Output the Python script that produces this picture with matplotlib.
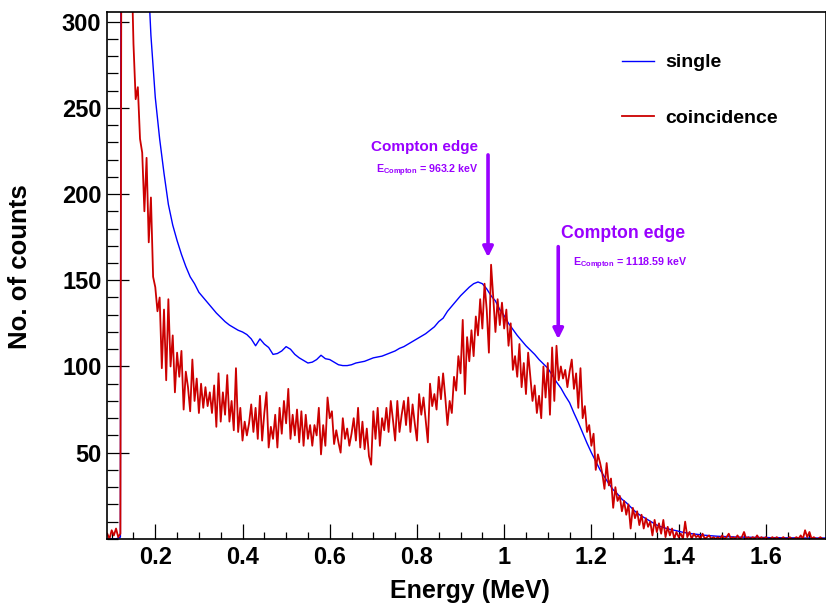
import numpy as np
import matplotlib.pyplot as plt
from matplotlib.ticker import MultipleLocator, FuncFormatter

plt.rcParams['font.family'] = ['Liberation Sans', 'DejaVu Sans']
plt.rcParams['font.weight'] = 'bold'
plt.rcParams['axes.labelweight'] = 'bold'
plt.rcParams['mathtext.fontset'] = 'custom'
plt.rcParams['mathtext.rm'] = 'Liberation Sans:bold'
plt.rcParams['mathtext.bf'] = 'Liberation Sans:bold'

# single spectrum, 0.01 MeV steps starting at 0.09 MeV
single_start, single_step = 0.09, 0.01
single_counts = [
    0, 0, 0, 1, 3000, 2600, 1500, 800, 480, 345,
    292, 256, 232, 212, 194, 182, 173, 165, 158, 152,
    148, 143, 140, 137, 134, 131, 128.5, 126, 124, 122.5,
    121, 120, 118.5, 116, 112, 116, 113, 111, 107, 107.5,
    109, 111.5, 110, 107, 105, 103.5, 102, 102.5, 104, 106.5,
    104.5, 104, 102.5, 101, 100.5, 100.5, 101, 102, 102.5, 103,
    104, 105, 105.5, 106, 107, 108, 109, 110.5, 111.5, 113,
    114.5, 116, 117.5, 119, 121, 123, 126, 128, 132, 135,
    138, 141, 143.5, 146, 148, 149, 148, 145, 141, 138,
    133, 129.5, 125, 121.5, 118, 115, 112, 109.5, 107, 104,
    101.5, 99, 95, 91, 87.5, 83, 79, 73, 67.5, 61.5,
    55.5, 50, 45, 40, 36, 32, 28.5, 26, 23, 21,
    18.5, 16, 14, 12.5, 11, 9.5, 8, 7, 6.2, 5.5,
    5, 4.4, 3.8, 3.4, 3, 2.7, 2.4, 2.1, 1.9, 1.7,
    1.5, 1.4, 1.3, 1.2, 1.1, 1.0, 1.0, 0.9, 0.9, 0.8,
    0.8, 0.8, 0.7, 0.7, 0.7, 0.6, 0.6, 0.6, 0.6, 0.5,
    0.5, 0.5, 0.5, 0.5, 0.5, 0.5,
]

# coincidence spectrum, 0.005 MeV steps starting at 0.09 MeV
coinc_start, coinc_step = 0.09, 0.005
coinc_counts = [
    3, 0, 5, 2, 6, 1, 3, 800, 1100, 900, 600, 340, 287, 255, 262, 232, 224, 190, 221, 172,
    198, 152, 146, 132, 140, 99, 133, 92, 139, 100, 118, 85, 108, 94, 109, 75, 97, 88, 74, 104,
    80, 93, 73, 90, 76, 88, 77, 85, 73, 89, 65, 96, 68, 85, 72, 95, 68, 80, 63, 99,
    62, 76, 57, 68, 60, 67, 78, 62, 76, 58, 83, 57, 73, 85, 53, 65, 58, 72, 53, 76,
    61, 80, 67, 87, 58, 72, 60, 75, 56, 74, 54, 72, 58, 66, 54, 66, 60, 76, 49, 66,
    54, 82, 70, 74, 55, 63, 56, 50, 70, 58, 64, 54, 61, 70, 57, 76, 53, 68, 52, 64,
    48, 43, 74, 58, 76, 54, 70, 63, 76, 62, 80, 69, 57, 80, 62, 72, 80, 66, 82, 62,
    78, 67, 57, 84, 72, 82, 69, 56, 90, 77, 84, 75, 94, 81, 96, 82, 66, 80, 73, 94,
    86, 106, 96, 127, 84, 117, 103, 121, 106, 129, 118, 139, 122, 148, 133, 108, 159, 140, 120, 139,
    124, 137, 122, 133, 112, 125, 98, 106, 94, 113, 88, 102, 84, 108, 94, 80, 89, 73, 83, 70,
    100, 82, 102, 72, 111, 80, 112, 92, 100, 93, 98, 88, 97, 104, 87, 96, 76, 99, 70, 77,
    62, 66, 54, 61, 40, 49, 44, 38, 29, 44, 31, 35, 18, 30, 22, 25, 16, 22, 14, 20,
    6, 18, 12, 16, 8, 14, 6, 12, 7, 10, 2, 11, 4, 9, 3, 11, 1, 7, 2, 6,
    0, 4, 1, 3, 0, 10, 1, 4, 0, 3, 1, 2, 0, 3, 0, 1, 2, 0, 1, 0,
    1, 0, 2, 0, 1, 3, 0, 1, 0, 2, 0, 1, 4, 0, 1, 0, 1, 0, 2, 0,
    1, 0, 1, 0, 0, 1, 0, 1, 0, 0, 1, 0, 0, 1, 0, 0, 1, 0, 2, 0,
    5, 1, 4, 0, 1, 0, 0, 1, 0, 0, 0,
]

series_labels = ['single', 'coincidence']
edge_energies = [0.963, 1.124]          # arrow positions (MeV)
edge_texts = ['963.2 keV', '1118.59 keV']

violet = '#9900ff'

single_e = single_start + single_step * np.arange(len(single_counts))
coinc_e = coinc_start + coinc_step * np.arange(len(coinc_counts))

fig = plt.figure(figsize=(8.26, 6.05), dpi=100)
ax = fig.add_axes([0.1295, 0.1093, 0.8705, 0.8709])

l1, = ax.plot(single_e, single_counts, color='#0000ff', lw=1.0)
l2, = ax.plot(coinc_e, coinc_counts, color='#cc0000', lw=1.3)

ax.set_xlim(0.0892, 1.738)
ax.set_ylim(0, 305.6)

ax.xaxis.set_major_locator(MultipleLocator(0.2))
ax.xaxis.set_minor_locator(MultipleLocator(0.05))
ax.xaxis.set_major_formatter(FuncFormatter(lambda v, p: '%g' % round(v, 2)))
ax.set_yticks([50, 100, 150, 200, 250, 300])
ax.yaxis.set_minor_locator(MultipleLocator(10))

ax.tick_params(axis='both', which='both', direction='in', width=0.9,
               top=False, right=False, labelsize=17)
ax.tick_params(axis='x', which='major', length=10.8, pad=5)
ax.tick_params(axis='x', which='minor', length=5.3)
ax.tick_params(axis='y', which='major', length=15.6, pad=4)
ax.tick_params(axis='y', which='minor', length=7.7)
for s in ax.spines.values():
    s.set_linewidth(1.2)

ax.set_xlabel('Energy (MeV)', fontsize=18, fontweight='bold', va='center')
ax.xaxis.set_label_coords(0.505, -0.099)
ax.set_ylabel('No. of counts', fontsize=18.5, fontweight='bold', va='center', ha='center')
ax.yaxis.set_label_coords(-0.1203, 0.516)

ax.legend([l1, l2], series_labels, fontsize=14, frameon=False,
          handlelength=1.65, handletextpad=0.6, labelspacing=1.96,
          loc='upper left', bbox_to_anchor=(0.716, 0.9205),
          borderpad=0, borderaxespad=0)

# Compton edge arrows and labels
ax.annotate('', xy=(edge_energies[0], 163.3), xytext=(edge_energies[0], 222.7),
            arrowprops=dict(arrowstyle='-|>,head_width=0.3,head_length=0.6',
                            lw=2.6, color=violet, shrinkA=0, shrinkB=0))
ax.annotate('', xy=(edge_energies[1], 115.8), xytext=(edge_energies[1], 169.5),
            arrowprops=dict(arrowstyle='-|>,head_width=0.3,head_length=0.6',
                            lw=2.6, color=violet, shrinkA=0, shrinkB=0))

ax.text(0.8175, 227.5, 'Compton edge', color=violet, fontsize=11,
        ha='center', va='center')
ax.text(1.2727, 177.4, 'Compton edge', color=violet, fontsize=12.7,
        ha='center', va='center')
ax.text(0.706, 212, r'E$_{\mathbf{Compton}}$ = ' + edge_texts[0], color=violet,
        fontsize=7.7, ha='left', va='baseline')
ax.text(1.158, 158.3, r'E$_{\mathbf{Compton}}$ = ' + edge_texts[1], color=violet,
        fontsize=7.7, ha='left', va='baseline')

fig.savefig('out.png', dpi=100)
